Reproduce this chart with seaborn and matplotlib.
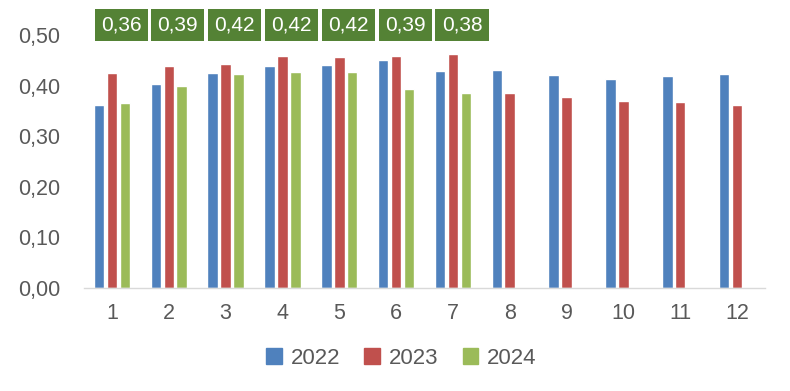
import matplotlib
matplotlib.use("Agg")
import matplotlib.pyplot as plt
import seaborn as sns
import pandas as pd
import numpy as np

months = [1, 2, 3, 4, 5, 6, 7, 8, 9, 10, 11, 12]
v2022 = [0.361, 0.403, 0.425, 0.438, 0.440, 0.450, 0.429, 0.431, 0.421, 0.413, 0.419, 0.423]
v2023 = [0.425, 0.438, 0.442, 0.458, 0.456, 0.458, 0.462, 0.385, 0.377, 0.369, 0.367, 0.361]
v2024 = [0.365, 0.399, 0.423, 0.427, 0.427, 0.393, 0.385, np.nan, np.nan, np.nan, np.nan, np.nan]
box_labels = ["0,36", "0,39", "0,42", "0,42", "0,42", "0,39", "0,38"]
years = ["2022", "2023", "2024"]
colors = ["#4F81BD", "#C0504D", "#9BBB59"]

rows = []
for yr, vals in zip(years, [v2022, v2023, v2024]):
    for m, v in zip(months, vals):
        rows.append({"month": str(m), "year": yr, "value": v})
df = pd.DataFrame(rows)

sns.set_theme(style="white")
plt.rcParams["font.family"] = ["Liberation Sans", "DejaVu Sans"]

fig = plt.figure(figsize=(7.9, 3.91), dpi=100)
ax = fig.add_axes([0.1058, 0.2634, 0.8631, 0.647])

sns.barplot(data=df, x="month", y="value", hue="year", palette=colors,
            width=0.68, gap=0.18, ax=ax, saturation=1, errorbar=None)

ax.set_ylim(0, 0.5)
ax.set_xlim(-0.5, 11.5)
ax.set_yticks([0, 0.1, 0.2, 0.3, 0.4, 0.5])
ax.set_yticklabels(["0,00", "0,10", "0,20", "0,30", "0,40", "0,50"])
ax.set_xlabel("")
ax.set_ylabel("")
for s in ["top", "right", "left"]:
    ax.spines[s].set_visible(False)
ax.spines["bottom"].set_color("#D9D9D9")
ax.spines["bottom"].set_linewidth(1.0)
ax.tick_params(axis="both", length=0, labelsize=15.5, labelcolor="#595959")
ax.tick_params(axis="y", pad=17)
ax.tick_params(axis="x", pad=11)

for i, lab in enumerate(box_labels):
    ax.text(i + 0.16, 0.52, lab, ha="center", va="center", fontsize=15,
            color="white", clip_on=False,
            bbox=dict(boxstyle="square,pad=0.3", fc="#548235", ec="none"))

ax.get_legend().remove()
handles = [plt.Rectangle((0, 0), 1, 1, color=c) for c in colors]
fig.legend(handles, years, loc="center", bbox_to_anchor=(0.508, 0.084), ncol=3,
           frameon=False, fontsize=16, handlelength=0.7, handleheight=0.7,
           handletextpad=0.4, columnspacing=1.1, labelcolor="#595959")

fig.savefig("out.png", dpi=100)
